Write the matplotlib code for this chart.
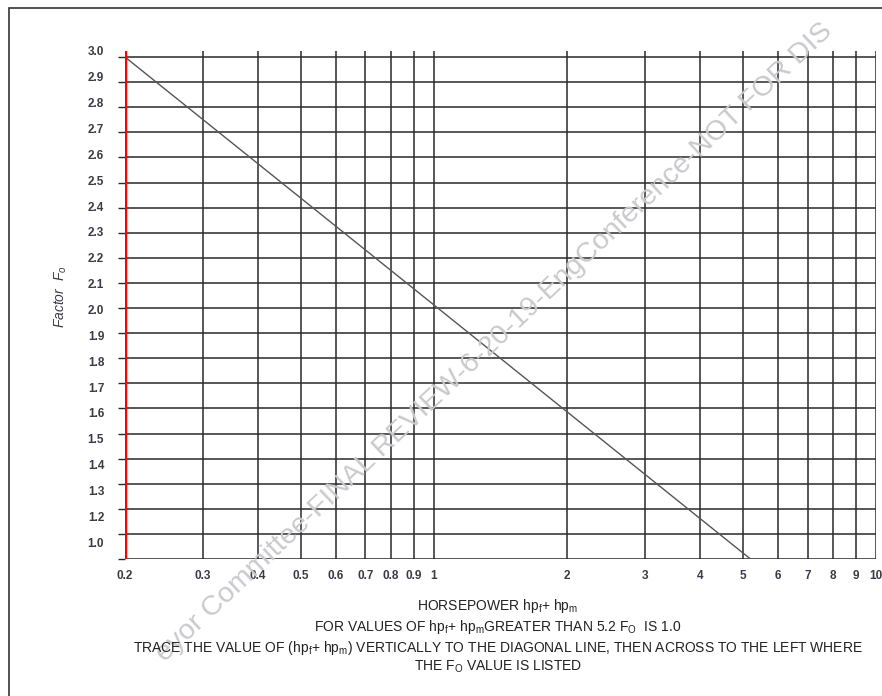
import matplotlib.pyplot as plt
import numpy as np
from matplotlib.patches import Rectangle

plt.rcParams['font.family'] = ['Liberation Sans', 'DejaVu Sans']
plt.rcParams['mathtext.fontset'] = 'custom'
plt.rcParams['mathtext.rm'] = 'Liberation Sans'
plt.rcParams['mathtext.it'] = 'Liberation Sans:italic'

# horsepower ticks (log axis)
hp_ticks = [0.2, 0.3, 0.4, 0.5, 0.6, 0.7, 0.8, 0.9, 1, 2, 3, 4, 5, 6, 7, 8, 9, 10]
hp_labels = ['0.2', '0.3', '0.4', '0.5', '0.6', '0.7', '0.8', '0.9', '1',
             '2', '3', '4', '5', '6', '7', '8', '9', '10']
# factor labels, bottom to top (chart has no 1.1 row)
fo_labels = ['1.0', '1.2', '1.3', '1.4', '1.5', '1.6', '1.7', '1.8', '1.9', '2.0',
             '2.1', '2.2', '2.3', '2.4', '2.5', '2.6', '2.7', '2.8', '2.9', '3.0']
# diagonal line, y in grid rows (0 = bottom edge, 20 = top edge)
diag_hp = [0.2, 5.2]
diag_row = [20, 0]

fig = plt.figure(figsize=(8.82, 6.96), dpi=100)
ax = fig.add_axes([125/882, 1-559/696, (876-125)/882, (559-51)/696])

ax.set_xscale('log')
ax.set_xlim(0.2, 10)
ax.set_ylim(0, 20)

# grid
for h in hp_ticks:
    ax.axvline(h, color='#2a2a2a', lw=1.1, zorder=2)
for r in range(0, 21):
    ax.axhline(r, color='#2a2a2a', lw=1.1, zorder=2)

ax.plot(diag_hp, diag_row, color='#555555', lw=1.0, zorder=3)
ax.axvline(0.2, color='#ff0000', lw=3.2, zorder=4)

for s in ax.spines.values():
    s.set_visible(False)

ax.xaxis.set_major_locator(plt.FixedLocator(hp_ticks))
ax.xaxis.set_minor_locator(plt.NullLocator())
ax.set_xticklabels(hp_labels)
ax.tick_params(axis='x', length=0, pad=8, labelsize=8.5, labelcolor='#3a3a48')
for t in ax.get_xticklabels():
    t.set_fontweight('bold')

# gridline ticks on the left, labels sit slightly offset from the rows
ax.yaxis.remove_overlapping_locs = False
ax.set_yticks(np.arange(0, 21))
ax.set_yticklabels([])
ax.tick_params(axis='y', which='major', length=5, width=1, color='#2a2a2a', direction='out')
label_pos = np.linspace(0.67, 20.24, len(fo_labels))
ax.set_yticks(label_pos, minor=True)
ax.set_yticklabels(fo_labels, minor=True)
ax.tick_params(axis='y', which='minor', length=0, pad=15, labelsize=8.5, labelcolor='#3a3a48')
for t in ax.get_yticklabels(minor=True):
    t.set_fontweight('bold')

fig.text(61/882, 1-297/696, r'Factor  $\mathit{F}_{\mathregular{o}}$', rotation=90,
         ha='center', va='center', fontsize=10, style='italic', color='#3a3a48')

lines = [
    (606, r'HORSEPOWER hp$_{\mathregular{f}}$+ hp$_{\mathregular{m}}$'),
    (627, r'FOR VALUES OF hp$_{\mathregular{f}}$+ hp$_{\mathregular{m}}$GREATER THAN 5.2 F$_{\mathregular{O}}$  IS 1.0'),
    (648, r'TRACE THE VALUE OF (hp$_{\mathregular{f}}$+ hp$_{\mathregular{m}}$) VERTICALLY TO THE DIAGONAL LINE, THEN ACROSS TO THE LEFT WHERE'),
    (667, r'THE F$_{\mathregular{O}}$ VALUE IS LISTED'),
]
for y, s in lines:
    fig.text(498/882, 1-y/696, s, ha='center', va='center', fontsize=10, color='#222222')

# watermark
fig.text(494/882, 1-343/696, 'eyor Committee-FINAL REVIEW-6-20-19-EngConference-NOT FOR DIS',
         rotation=43.3, rotation_mode='anchor', ha='center', va='center',
         fontsize=20.5, color='#cacace', zorder=0)

# page frame
fig.patches.append(Rectangle((9/882, -0.1), 1.2, 1-8/696+0.1, transform=fig.transFigure,
                             fill=False, edgecolor='#333333', lw=1.2))

fig.savefig('out.png', dpi=100)
